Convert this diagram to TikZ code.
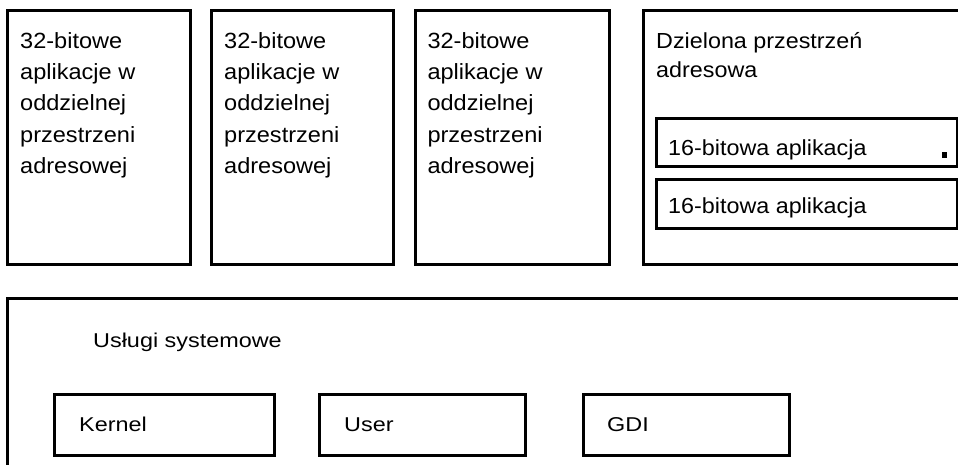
\documentclass[tikz,border=0pt]{standalone}
\usepackage{fontspec}
\setmainfont[FakeStretch=1.07]{Liberation Sans}
\newfontfamily\botfont[FakeStretch=1.17]{Liberation Sans}
\begin{document}
\begin{tikzpicture}[x=1pt,y=-1pt,
  box/.style={draw=black,line width=3pt,rectangle,inner sep=0pt,outer sep=0pt,fill=none},
  toptext/.style={inner sep=0pt,anchor=north west,align=left,font=\fontsize{22pt}{31.2pt}\selectfont},
  sharetext/.style={inner sep=0pt,anchor=north west,align=left,font=\fontsize{21.8pt}{29pt}\selectfont},
  lbl/.style={inner sep=0pt,anchor=base west,font=\fontsize{21.8pt}{26pt}\selectfont},
  botlbl/.style={inner sep=0pt,anchor=base west,font=\botfont\fontsize{20pt}{24pt}\selectfont}]
\useasboundingbox (0,0) rectangle (958,464);
\clip (0,0) rectangle (958,464);
\fill[white] (0,0) rectangle (958,464);
% top boxes
\node[box,minimum width=182.7pt,minimum height=253.4pt] (b1) at (98.85,137.5) {};
\node[box,minimum width=181.7pt,minimum height=253.4pt] (b2) at (302.35,137.5) {};
\node[box,minimum width=194.8pt,minimum height=253.4pt] (b3) at (512.4,137.5) {};
\node[box,minimum width=336.7pt,minimum height=253.4pt] (b4) at (811.65,137.5) {};
\node[box,minimum width=300.9pt,minimum height=48.7pt] (a1) at (806.75,142.35) {};
\node[box,minimum width=300.9pt,minimum height=48.3pt] (a2) at (806.75,203.85) {};
\node[fill=black,inner sep=0pt,minimum size=5.5pt] (dot) at (944.5,155) {};
% texts
\node[toptext] (t1) at (20,28.3) {\rule{0pt}{20pt}32-bitowe\\aplikacje w\\oddzielnej\\przestrzeni\\adresowej};
\node[toptext] (t2) at (224,28.3) {\rule{0pt}{20pt}32-bitowe\\aplikacje w\\oddzielnej\\przestrzeni\\adresowej};
\node[toptext] (t3) at (427.3,28.3) {\rule{0pt}{20pt}32-bitowe\\aplikacje w\\oddzielnej\\przestrzeni\\adresowej};
\node[sharetext] (t4) at (656,28.3) {\rule{0pt}{20pt}Dzielona przestrzeń\\adresowa};
\node[lbl] (ta1) at (668,155) {16-bitowa aplikacja};
\node[lbl] (ta2) at (668,213.3) {16-bitowa aplikacja};
% bottom
\node[box,minimum width=972.5pt,minimum height=181.7pt] (sys) at (493.75,389.15) {};
\node[botlbl] (tsys) at (93,347.3) {Usługi systemowe};
\node[box,minimum width=220pt,minimum height=60.5pt] (kern) at (164.7,424.75) {};
\node[box,minimum width=206.7pt,minimum height=60.5pt] (user) at (422.35,424.75) {};
\node[box,minimum width=206.7pt,minimum height=60.5pt] (gdi) at (686.35,424.75) {};
\node[botlbl] (tk) at (79,431.5) {Kernel};
\node[botlbl] (tu) at (344,431) {User};
\node[botlbl] (tg) at (607,431) {GDI};
\end{tikzpicture}
\end{document}
